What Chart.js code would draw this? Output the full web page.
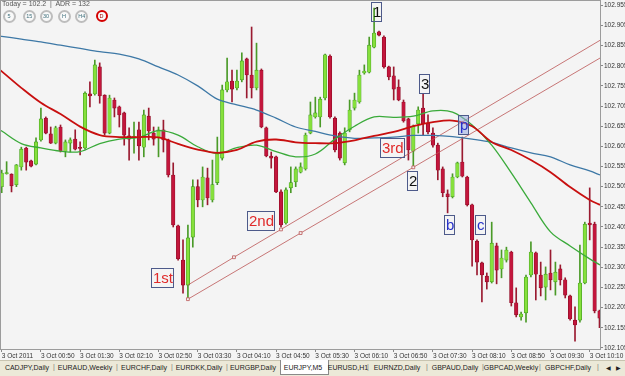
<!DOCTYPE html>
<html lang="en">
<head>
<meta charset="UTF-8">
<title>EURJPY,M5</title>
<script src="https://cdn.jsdelivr.net/npm/chart.js"></script>
<style>
  html, body { margin: 0; padding: 0; background: #f4f4f4; }
  .wrap { position: relative; width: 625px; height: 376px; overflow: hidden;
          font-family: 'Liberation Sans', Arial, sans-serif; }
  canvas { position: absolute; left: 0; top: 0; }
  .info { position: absolute; left: 2px; top: 0; font-size: 7px; color: #555; white-space: pre; }
  .btn { position: absolute; top: 10px; width: 9px; height: 9px; border: 2px solid #bdbdbd;
         border-radius: 50%; background: #f9f9f9; font-size: 5.5px; line-height: 9px;
         text-align: center; color: #3b6d7a; }
  .btn.d { border: 2.5px solid #d40000; width: 8px; height: 8px; line-height: 8px; color: #a00000; }
  .tabs { position: absolute; left: 0; top: 360px; width: 625px; height: 16px; background: #ece9d8;
          font-size: 7px; color: #222; border-top: 1px solid #c8c4b0; box-sizing: border-box; }
  .tab { position: absolute; top: 3px; white-space: nowrap; transform: translateX(-50%); }
  .sep { position: absolute; top: 2px; color: #777; }
  .active { position: absolute; left: 280px; top: -1px; width: 47px; height: 14px; background: #fff;
            border: 1px solid #8a8a8a; border-top: none; }
  .arrow { position: absolute; top: 3px; font-size: 6px; color: #222; }
</style>
</head>
<body>
<div class="wrap">
  <canvas id="chart" width="625" height="360"></canvas>

  <div class="info">Today = 102.2  |  ADR = 132</div>
  <div class="btn" style="left:2.5px">5</div>
  <div class="btn" style="left:22.8px">15</div>
  <div class="btn" style="left:39.5px">30</div>
  <div class="btn" style="left:57.5px">H</div>
  <div class="btn" style="left:75.2px">H4</div>
  <div class="btn d" style="left:95.5px">D</div>

  <div class="tabs">
    <div class="active"></div>
    <span class="tab" style="left:27px">CADJPY,Daily</span>
    <span class="sep" style="left:53px">|</span>
    <span class="tab" style="left:85px">EURAUD,Weekly</span>
    <span class="sep" style="left:116px">|</span>
    <span class="tab" style="left:144px">EURCHF,Daily</span>
    <span class="sep" style="left:171px">|</span>
    <span class="tab" style="left:199px">EURDKK,Daily</span>
    <span class="sep" style="left:226px">|</span>
    <span class="tab" style="left:253px">EURGBP,Daily</span>
    <span class="tab" style="left:303px">EURJPY,M5</span>
    <span class="tab" style="left:348px">EURUSD,H1</span>
    <span class="sep" style="left:367px">|</span>
    <span class="tab" style="left:397px">EURNZD,Daily</span>
    <span class="sep" style="left:426px">|</span>
    <span class="tab" style="left:455px">GBPAUD,Daily</span>
    <span class="sep" style="left:482px">|</span>
    <span class="tab" style="left:511px">GBPCAD,Weekly</span>
    <span class="sep" style="left:539px">|</span>
    <span class="tab" style="left:568px">GBPCHF,Daily</span>
    <span class="sep" style="left:597px">|</span>
    <span class="arrow" style="left:606px">&#9664;</span>
    <span class="arrow" style="left:616px">&#9654;</span>
  </div>
</div>

<script>
// EURJPY M5 candles, bar 0 = 3 Oct 00:10
const opens = [
  102.505, 102.537, 102.536, 102.510, 102.554, 102.601, 102.569, 102.561, 102.621, 102.675,
  102.636, 102.613, 102.653, 102.593, 102.613, 102.623, 102.602, 102.601, 102.735, 102.735,
  102.802, 102.732, 102.638, 102.720, 102.703, 102.688, 102.631, 102.627, 102.646, 102.603,
  102.680, 102.638, 102.626, 102.646, 102.621, 102.534, 102.408, 102.323, 102.261, 102.380,
  102.505, 102.472, 102.527, 102.472, 102.515, 102.576, 102.745, 102.767, 102.750, 102.770,
  102.822, 102.782, 102.750, 102.794, 102.651, 102.581, 102.579, 102.492, 102.415, 102.502,
  102.517, 102.541, 102.549, 102.638, 102.678, 102.678, 102.725, 102.829, 102.675, 102.638,
  102.564, 102.646, 102.700, 102.715, 102.787, 102.789, 102.851, 102.889, 102.876, 102.802,
  102.780, 102.752, 102.715, 102.673, 102.593, 102.661, 102.700, 102.663, 102.638, 102.608,
  102.549, 102.487, 102.480, 102.529, 102.566, 102.529, 102.460, 102.370, 102.316, 102.283,
  102.269, 102.358, 102.301, 102.323, 102.343, 102.217, 102.182, 102.192, 102.286, 102.341,
  102.286, 102.256, 102.291, 102.269, 102.301, 102.274, 102.234, 102.174, 102.174, 102.266,
  102.415, 102.412, 102.197
];
const highs = [
  102.546, 102.567, 102.537, 102.560, 102.603, 102.603, 102.571, 102.626, 102.700, 102.678,
  102.653, 102.655, 102.658, 102.621, 102.626, 102.646, 102.616, 102.740, 102.765, 102.819,
  102.812, 102.733, 102.732, 102.725, 102.705, 102.690, 102.651, 102.665, 102.665, 102.695,
  102.700, 102.653, 102.653, 102.670, 102.623, 102.564, 102.410, 102.373, 102.410, 102.522,
  102.522, 102.554, 102.551, 102.571, 102.628, 102.757, 102.824, 102.794, 102.794, 102.837,
  102.824, 102.901, 102.861, 102.797, 102.653, 102.591, 102.581, 102.497, 102.502, 102.554,
  102.554, 102.564, 102.638, 102.715, 102.727, 102.727, 102.834, 102.832, 102.678, 102.641,
  102.651, 102.720, 102.737, 102.794, 102.807, 102.876, 102.948, 102.891, 102.879, 102.804,
  102.802, 102.770, 102.720, 102.675, 102.658, 102.703, 102.735, 102.683, 102.651, 102.613,
  102.554, 102.497, 102.537, 102.566, 102.628, 102.531, 102.462, 102.373, 102.318, 102.291,
  102.417, 102.365, 102.348, 102.355, 102.345, 102.254, 102.194, 102.286, 102.368, 102.343,
  102.318, 102.306, 102.348, 102.318, 102.311, 102.279, 102.236, 102.207, 102.360, 102.417,
  102.502, 102.417, 102.199
];
const lows = [
  102.490, 102.536, 102.492, 102.505, 102.546, 102.546, 102.554, 102.559, 102.618, 102.636,
  102.612, 102.611, 102.591, 102.579, 102.591, 102.596, 102.584, 102.598, 102.703, 102.732,
  102.712, 102.633, 102.636, 102.678, 102.653, 102.608, 102.571, 102.588, 102.571, 102.579,
  102.621, 102.608, 102.579, 102.591, 102.529, 102.405, 102.323, 102.241, 102.229, 102.355,
  102.455, 102.455, 102.460, 102.467, 102.510, 102.571, 102.740, 102.715, 102.745, 102.765,
  102.725, 102.725, 102.745, 102.651, 102.579, 102.551, 102.490, 102.405, 102.412, 102.490,
  102.505, 102.539, 102.546, 102.636, 102.675, 102.653, 102.720, 102.675, 102.591, 102.571,
  102.559, 102.641, 102.695, 102.712, 102.784, 102.787, 102.849, 102.879, 102.799, 102.770,
  102.720, 102.718, 102.665, 102.571, 102.554, 102.638, 102.633, 102.636, 102.603, 102.522,
  102.480, 102.440, 102.477, 102.527, 102.529, 102.457, 102.308, 102.286, 102.219, 102.251,
  102.266, 102.264, 102.279, 102.318, 102.209, 102.182, 102.174, 102.169, 102.281, 102.224,
  102.234, 102.224, 102.249, 102.236, 102.261, 102.229, 102.174, 102.122, 102.169, 102.264,
  102.373, 102.192, 102.155
];
const closes = [
  102.539, 102.540, 102.507, 102.559, 102.598, 102.566, 102.556, 102.616, 102.673, 102.638,
  102.613, 102.651, 102.593, 102.616, 102.621, 102.598, 102.600, 102.737, 102.730, 102.807,
  102.730, 102.638, 102.725, 102.700, 102.683, 102.633, 102.623, 102.629, 102.606, 102.683,
  102.643, 102.623, 102.646, 102.621, 102.534, 102.410, 102.326, 102.261, 102.378, 102.505,
  102.472, 102.529, 102.477, 102.510, 102.589, 102.745, 102.765, 102.747, 102.767, 102.817,
  102.782, 102.750, 102.794, 102.653, 102.581, 102.576, 102.492, 102.410, 102.497, 102.515,
  102.549, 102.554, 102.633, 102.683, 102.688, 102.722, 102.832, 102.678, 102.596, 102.576,
  102.638, 102.695, 102.720, 102.782, 102.792, 102.856, 102.886, 102.881, 102.802, 102.777,
  102.747, 102.720, 102.668, 102.596, 102.655, 102.695, 102.661, 102.641, 102.608, 102.546,
  102.490, 102.480, 102.529, 102.564, 102.531, 102.460, 102.373, 102.318, 102.286, 102.269,
  102.365, 102.298, 102.328, 102.348, 102.217, 102.187, 102.189, 102.281, 102.343, 102.288,
  102.254, 102.288, 102.274, 102.293, 102.274, 102.236, 102.177, 102.162, 102.266, 102.412,
  102.410, 102.197, 102.179
];

// moving averages, every 4 bars
const maBars = [-0.35, 0, 4, 8, 12, 16, 20, 24, 28, 32, 36, 40, 44, 48, 52, 56, 60,
                64, 68, 72, 76, 80, 84, 88, 92, 96, 100, 104, 108, 112, 116, 120, 122.1];
const maBlue = [102.879, 102.878, 102.871, 102.864, 102.856, 102.848, 102.840, 102.834, 102.822,
                102.802, 102.782, 102.755, 102.722, 102.708, 102.695, 102.675, 102.653, 102.642,
                102.631, 102.625, 102.626, 102.628, 102.632, 102.632, 102.629, 102.623, 102.615,
                102.601, 102.589, 102.579, 102.559, 102.544, 102.534];
const maRed = [102.794, 102.791, 102.750, 102.713, 102.685, 102.654, 102.633, 102.628, 102.628,
               102.627, 102.611, 102.597, 102.589, 102.596, 102.617, 102.622, 102.615, 102.613,
               102.613, 102.620, 102.631, 102.641, 102.655, 102.665, 102.669, 102.655, 102.616,
               102.596, 102.571, 102.541, 102.504, 102.472, 102.460];
const maGreen = [102.646, 102.643, 102.612, 102.601, 102.593, 102.592, 102.612, 102.623, 102.627,
                 102.644, 102.633, 102.604, 102.587, 102.602, 102.608, 102.592, 102.579, 102.586,
                 102.623, 102.655, 102.678, 102.677, 102.680, 102.693, 102.690, 102.658, 102.608,
                 102.539, 102.465, 102.393, 102.358, 102.326, 102.311];

// trend channel anchors (bar, price)
const upperBars = [38, 47.4, 57, 122.1];
const upperPrices = [102.261, 102.330, 102.399, 102.868];
const lowerBars = [38, 61, 84, 122.1];
const lowerPrices = [102.226, 102.390, 102.553, 102.824];

// text labels on the chart (left bar, top price)
const noteText = ['1', '3', '2', '3rd', 'p', 'b', 'c', '2nd', '1st'];
const noteBar = [75.4, 85.2, 82.8, 77.1, 93.1, 90.3, 96.6, 50.1, 30.5];
const notePrice = [102.964, 102.784, 102.545, 102.625, 102.683, 102.435, 102.435, 102.445, 102.303];

// axis ticks
const timeTickBars = [0, 8, 16, 24, 32, 40, 48, 56, 64, 72, 80, 88, 96, 104, 112, 120];
const timeTickLabels = ['3 Oct 2011', '3 Oct 00:50', '3 Oct 01:30', '3 Oct 02:10', '3 Oct 02:50',
  '3 Oct 03:30', '3 Oct 04:10', '3 Oct 04:50', '3 Oct 05:30', '3 Oct 06:10', '3 Oct 06:50',
  '3 Oct 07:30', '3 Oct 08:10', '3 Oct 08:50', '3 Oct 09:30', '3 Oct 10:10'];
const priceTicks = [102.105, 102.155, 102.205, 102.255, 102.305, 102.355, 102.405, 102.455, 102.505,
  102.555, 102.605, 102.655, 102.705, 102.755, 102.805, 102.855, 102.905, 102.955];

const axisFont = { family: "'Liberation Sans', Arial, sans-serif", size: 6.5 };
const isUp = opens.map((o, i) => closes[i] >= o);

const pts = (xs, ys) => xs.map((v, i) => ({ x: v, y: ys[i] }));

// background + frame
const framePlugin = {
  id: 'frame',
  beforeDraw(chart) {
    const { ctx, width, height } = chart;
    ctx.save();
    ctx.fillStyle = '#f4f4f4';
    ctx.fillRect(0, 0, width, height);
    ctx.restore();
  },
  afterDraw(chart) {
    const { ctx, chartArea: a } = chart;
    ctx.save();
    ctx.strokeStyle = '#9c9c9c';
    ctx.lineWidth = 1;
    ctx.strokeRect(a.left + 0.5, a.top + 0.5, a.right - a.left, a.bottom - a.top);
    ctx.restore();
  }
};

// boxed text objects
const notesPlugin = {
  id: 'notes',
  afterDatasetsDraw(chart) {
    const { ctx, scales: { x, y } } = chart;
    ctx.save();
    ctx.font = "15px 'Liberation Sans', Arial, sans-serif";
    ctx.textBaseline = 'middle';
    noteText.forEach((t, k) => {
      const px = Math.round(x.getPixelForValue(noteBar[k])) + 0.5;
      const py = Math.round(y.getPixelForValue(notePrice[k])) + 0.5;
      const w = Math.round(ctx.measureText(t).width) + 2;
      let ink = '#111';
      if (/st|nd|rd/.test(t)) ink = '#e02a2a';
      if (/^[pbc]$/.test(t)) ink = '#2630c8';
      if (t === 'p') {
        ctx.fillStyle = 'rgba(150,170,225,0.55)';
        ctx.fillRect(px, py, w, 19);
      }
      ctx.strokeStyle = '#4d5a8a';
      ctx.lineWidth = 1;
      ctx.strokeRect(px, py, w, 19);
      ctx.fillStyle = ink;
      ctx.fillText(t, px + 1.5, py + 10);
    });
    ctx.restore();
  }
};

new Chart(document.getElementById('chart'), {
  type: 'bar',
  data: {
    datasets: [
      { type: 'line', data: pts(maBars, maRed), borderColor: '#c80f0f', borderWidth: 1.8,
        pointRadius: 0, tension: 0.35, order: 0 },
      { type: 'line', data: pts(maBars, maGreen), borderColor: '#3aaa3a', borderWidth: 1.3,
        pointRadius: 0, tension: 0.35, order: 0 },
      { type: 'line', data: pts(maBars, maBlue), borderColor: '#3d78a6', borderWidth: 1.3,
        pointRadius: 0, tension: 0.35, order: 0 },
      { type: 'line', data: pts(upperBars, upperPrices), borderColor: '#bb5555', borderWidth: 0.8,
        pointStyle: 'rect', pointRadius: [0, 2, 2, 0], pointBackgroundColor: '#f4f4f4',
        pointBorderColor: '#bb5555', pointBorderWidth: 0.8, tension: 0, order: 0 },
      { type: 'line', data: pts(lowerBars, lowerPrices), borderColor: '#bb5555', borderWidth: 0.8,
        pointStyle: 'rect', pointRadius: [2, 2, 2, 0], pointBackgroundColor: '#f4f4f4',
        pointBorderColor: '#bb5555', pointBorderWidth: 0.8, tension: 0, order: 0 },
      { // bodies
        data: opens.map((o, i) => ({ x: i, y: [o, closes[i]] })),
        backgroundColor: isUp.map(u => u ? '#86e03c' : '#c3163c'),
        borderColor: isUp.map(u => u ? '#3f9a1c' : '#8a0a22'),
        borderWidth: 0.6, borderSkipped: false, barThickness: 3.5, minBarLength: 1,
        grouped: false, order: 1 },
      { // wicks
        data: lows.map((l, i) => ({ x: i, y: [l, highs[i]] })),
        backgroundColor: isUp.map(u => u ? '#4a9a28' : '#9a1a30'),
        borderWidth: 0, barThickness: 1, grouped: false, order: 2 }
    ]
  },
  options: {
    responsive: false,
    animation: false,
    devicePixelRatio: 1,
    layout: { padding: 0, autoPadding: false },
    plugins: { legend: { display: false }, tooltip: { enabled: false } },
    scales: {
      x: {
        type: 'linear', min: -0.35, max: 122.1, offset: false,
        grid: { offset: false, drawOnChartArea: false, tickLength: 3, color: '#888' },
        border: { display: true, color: '#9c9c9c' },
        ticks: {
          autoSkip: false, maxRotation: 0, minRotation: 0, align: 'start', padding: 0,
          color: '#333', font: axisFont,
          callback: v => timeTickLabels[timeTickBars.indexOf(v)]
        },
        afterBuildTicks: s => { s.ticks = timeTickBars.map(v => ({ value: v })); },
        afterFit: s => { s.height = 11; s.paddingLeft = 0; s.paddingRight = 0; }
      },
      y: {
        position: 'right', min: 102.1024, max: 102.968,
        grid: { drawOnChartArea: false, tickLength: 3, color: '#888' },
        border: { display: true, color: '#9c9c9c' },
        ticks: { padding: 1, color: '#333', font: axisFont, callback: v => v.toFixed(3) },
        afterBuildTicks: s => { s.ticks = priceTicks.map(v => ({ value: v })); },
        afterFit: s => { s.width = 25; s.paddingTop = 0; s.paddingBottom = 0; }
      }
    }
  },
  plugins: [framePlugin, notesPlugin]
});
</script>
</body>
</html>
